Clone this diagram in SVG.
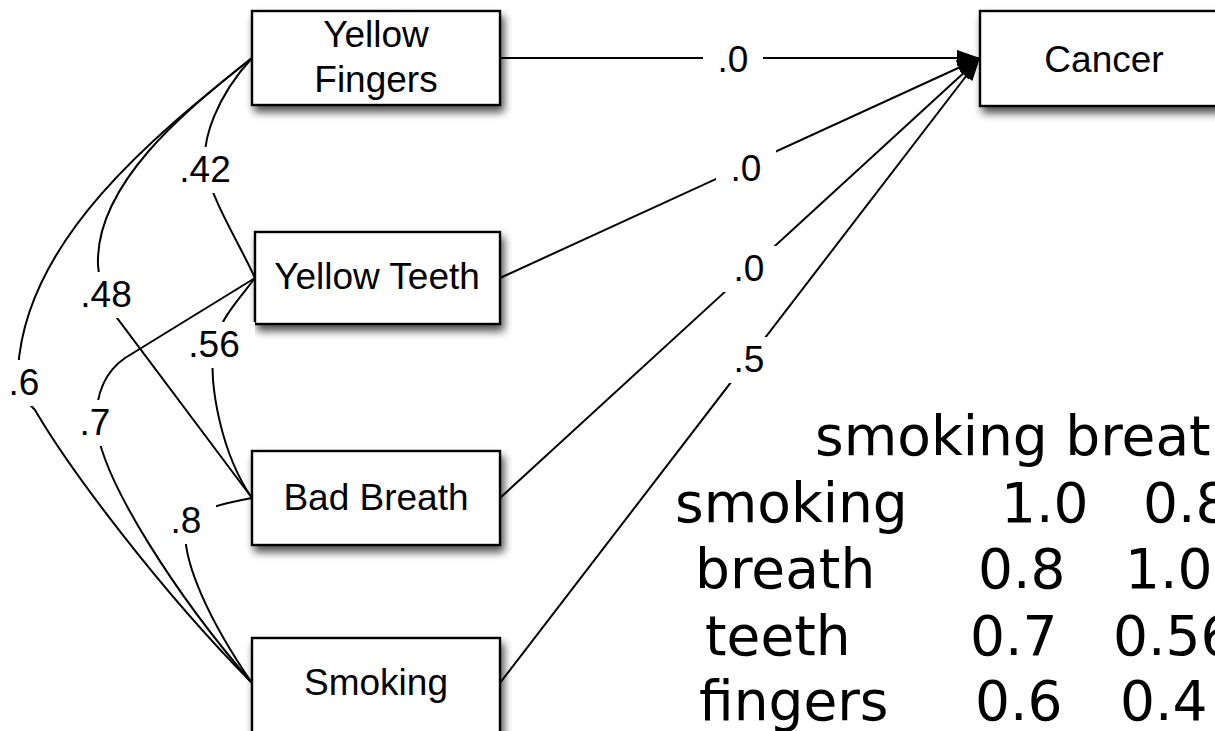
<svg xmlns="http://www.w3.org/2000/svg" width="1215" height="731" viewBox="0 0 1215 731">
<defs>
<filter id="sh" x="-10%" y="-20%" width="130%" height="150%">
<feGaussianBlur in="SourceAlpha" stdDeviation="4"/>
<feOffset dx="3" dy="6" result="b"/>
<feComponentTransfer><feFuncA type="linear" slope="0.7"/></feComponentTransfer>
<feMerge><feMergeNode/><feMergeNode in="SourceGraphic"/></feMerge>
</filter>
<marker id="arr" markerUnits="userSpaceOnUse" markerWidth="26" markerHeight="18" refX="23" refY="8" orient="auto" overflow="visible">
<path d="M0,0 L23,8 L0,16 Z" fill="#000"/>
</marker>
</defs>
<style>
.box{fill:#fff;stroke:#000;stroke-width:2.4;filter:url(#sh)}
.bt{font-family:"Liberation Sans",Arial,sans-serif;font-size:37px;fill:#000;text-anchor:middle}
.e{fill:none;stroke:#000;stroke-width:2}
.a{fill:none;stroke:#000;stroke-width:2;marker-end:url(#arr)}
.lb{fill:#fff;stroke:none}
.lt{font-family:"Liberation Sans",Arial,sans-serif;font-size:37px;fill:#000;text-anchor:middle}
.tb{font-family:"DejaVu Sans",sans-serif;font-size:55px;fill:#000}
</style>
<rect width="1215" height="731" fill="#fff"/>

<g id="node-yellow-fingers">
<rect class="box" x="252" y="11" width="248" height="94"/>
<text class="bt" x="376" y="47">Yellow</text>
<text class="bt" x="376" y="92">Fingers</text>
</g>
<g id="node-yellow-teeth">
<rect class="box" x="255" y="232" width="245" height="92"/>
<text class="bt" x="377" y="289">Yellow Teeth</text>
</g>
<g id="node-bad-breath">
<rect class="box" x="252" y="451" width="248" height="94"/>
<text class="bt" x="376" y="510">Bad Breath</text>
</g>
<g id="node-smoking">
<rect class="box" x="252" y="638" width="248" height="96"/>
<text class="bt" x="376" y="695">Smoking</text>
</g>
<g id="node-cancer">
<rect class="box" x="980" y="11" width="248" height="95"/>
<text class="bt" x="1104" y="72">Cancer</text>
</g>

<g id="connectors">
<path class="e" d="M252,58 C218,95 200,140 206,170 C212,200 240,245 255,278"/>
<rect class="lb" x="165" y="147" width="80" height="46"/>
<text class="lt" x="205" y="182">.42</text>

<path class="e" d="M252,58 C185,110 95,185 98,265 C100,290 106,306 117,318 L252,498"/>
<rect class="lb" x="66" y="272" width="80" height="46"/>
<text class="lt" x="106" y="307">.48</text>

<path class="e" d="M252,58 C155,135 25,240 18,370 C19,390 25,400 35,410 C70,470 160,590 252,683"/>
<rect class="lb" x="-6" y="360" width="60" height="46"/>
<text class="lt" x="24" y="395">.6</text>

<path class="e" d="M255,278 C240,298 220,318 214,345 C208,385 222,455 252,498"/>
<rect class="lb" x="177" y="322" width="78" height="46"/>
<text class="lt" x="214" y="357">.56</text>

<path class="e" d="M255,278 L125,358 Q96,378 96,422 C100,480 180,600 252,683"/>
<rect class="lb" x="65" y="400" width="60" height="46"/>
<text class="lt" x="95" y="435">.7</text>

<path class="e" d="M252,498 C225,503 192,510 186,525 C180,560 212,625 252,683"/>
<rect class="lb" x="156" y="498" width="60" height="46"/>
<text class="lt" x="186" y="533">.8</text>

<path class="a" d="M500,58 L980,58"/>
<rect class="lb" x="703" y="37" width="60" height="46"/>
<text class="lt" x="733" y="72">.0</text>

<path class="a" d="M500,278 L980,58"/>
<rect class="lb" x="716" y="146" width="60" height="46"/>
<text class="lt" x="746" y="181">.0</text>

<path class="a" d="M500,498 L980,58"/>
<rect class="lb" x="719" y="246" width="60" height="46"/>
<text class="lt" x="749" y="281">.0</text>

<path class="a" d="M500,683 L980,58"/>
<rect class="lb" x="719" y="337" width="60" height="46"/>
<text class="lt" x="749" y="372">.5</text>
</g>

<g id="table">
<text class="tb" x="815" y="455">smoking breat</text>
<text class="tb" y="522"><tspan x="675">smoking</tspan><tspan x="1001">1.0</tspan><tspan x="1143">0.8</tspan></text>
<text class="tb" y="588"><tspan x="695">breath</tspan><tspan x="978">0.8</tspan><tspan x="1125">1.0</tspan></text>
<text class="tb" y="655"><tspan x="705">teeth</tspan><tspan x="970">0.7</tspan><tspan x="1113">0.56</tspan></text>
<text class="tb" y="720"><tspan x="699">fingers</tspan><tspan x="975">0.6</tspan><tspan x="1120">0.4</tspan></text>
</g>
</svg>
